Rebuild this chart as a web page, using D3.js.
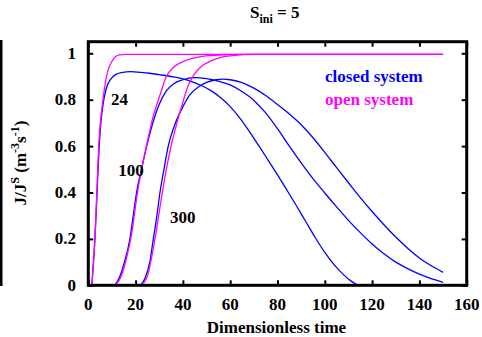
<!DOCTYPE html>
<html>
<head>
<meta charset="utf-8">
<script src="https://cdn.jsdelivr.net/npm/d3@7/dist/d3.min.js"></script>
<style>
  html, body { margin: 0; padding: 0; background: #fff; }
  svg { display: block; }
  text { font-family: "Liberation Serif", "Times New Roman", serif; font-weight: bold; }
</style>
</head>
<body>
<svg id="chart" width="482" height="337"></svg>
<script>
// Normalised nucleation rate J/J^S versus dimensionless time, S_ini = 5.
// Each series is a list of [time, J/J^S] samples.

const closed24 = [[1.5,0],[2.2,0.1],[2.8,0.2],[3.7,0.4],[4.6,0.6],[5.3,0.7],[6.4,0.79],[7.5,0.845],[9.6,0.89],[11.5,0.908],[14,0.917],[18,0.921],[22,0.918],[26,0.914],[30,0.908],[35,0.9],[40,0.89],[44,0.877],[48,0.86],[52,0.838],[56,0.808],[60,0.77],[64,0.722],[68,0.665],[72,0.603],[76,0.54],[80,0.476],[84,0.41],[88,0.343],[92,0.274],[96,0.205],[100,0.142],[104,0.088],[108,0.045],[111,0.019],[114,0]];

const closed100 = [[11.2,0],[13,0.03],[15,0.09],[17.6,0.2],[19,0.3],[20.4,0.4],[22.5,0.5],[24.7,0.6],[27,0.69],[30,0.78],[33,0.838],[36,0.868],[40,0.886],[45,0.895],[50,0.891],[55,0.88],[60,0.864],[65,0.835],[70,0.797],[75,0.743],[80,0.675],[85,0.6],[90,0.528],[95,0.46],[100,0.398],[105,0.338],[110,0.28],[115,0.227],[120,0.178],[125,0.136],[130,0.1],[135,0.072],[140,0.048],[145,0.029],[150,0.013]];

const closed300 = [[22,0],[24,0.03],[26,0.1],[27.5,0.2],[29,0.3],[30.3,0.4],[32,0.5],[33.8,0.6],[36.5,0.69],[40,0.77],[43,0.822],[47,0.858],[50,0.875],[54,0.886],[57,0.889],[60,0.886],[65,0.874],[70,0.85],[75,0.818],[80,0.779],[85,0.738],[90,0.692],[95,0.636],[100,0.573],[105,0.507],[110,0.442],[115,0.378],[120,0.318],[125,0.261],[130,0.208],[135,0.16],[140,0.118],[145,0.084],[150,0.056]];

const open24 = [[1.5,0],[2.2,0.1],[2.8,0.2],[3.6,0.4],[4.4,0.6],[5.1,0.7],[6.2,0.8],[7.5,0.89],[8.6,0.935],[10,0.965],[11.5,0.985],[13,0.993],[16,0.995],[150,0.995]];

const open100 = [[11.4,0],[14,0.04],[16,0.11],[18.3,0.22],[20.5,0.38],[22.5,0.5],[25,0.62],[27.5,0.73],[30.3,0.82],[33,0.9],[36,0.94],[40,0.964],[47,0.985],[55,0.992],[62,0.995],[150,0.995]];

const open300 = [[22.5,0],[25,0.04],[28.2,0.2],[31.3,0.4],[33,0.5],[35,0.6],[37.5,0.7],[40,0.79],[42,0.855],[44.5,0.905],[48,0.945],[51.6,0.966],[56,0.982],[61,0.99],[70,0.995],[150,0.995]];

const closedSeries = [closed24, closed100, closed300];
const openSeries = [open24, open100, open300];

const curveLabels = ["24", "100", "300"];
const legendLabels = ["closed system", "open system"];
const xTicks = [0, 20, 40, 60, 80, 100, 120, 140, 160];
const yTicks = [0, 0.2, 0.4, 0.6, 0.8, 1];

const BLUE = "#0000ff";
const MAGENTA = "#ff00ff";

const svg = d3.select("#chart");
const plotL = 88.3, plotR = 466.7, plotT = 41.7, plotB = 285.3;

const x = d3.scaleLinear().domain([0, 160]).range([plotL, plotR]);
const y = d3.scaleLinear().domain([0, 1]).range([plotB, plotB - 232]);

// Stray frame edge at the far left
svg.append("rect").attr("x", 0).attr("y", 40).attr("width", 2.5).attr("height", 246).attr("fill", "#000");

// Curves
const line = d3.line().x(d => x(d[0])).y(d => y(d[1])).curve(d3.curveMonotoneX);
const g = svg.append("g");
closedSeries.forEach(s => g.append("path").attr("d", line(s))
  .attr("fill", "none").attr("stroke", BLUE).attr("stroke-width", 1.3));
openSeries.forEach(s => g.append("path").attr("d", line(s))
  .attr("fill", "none").attr("stroke", MAGENTA).attr("stroke-width", 1.3));

// Ticks on all four sides, pointing inward
const tickLen = 5;
const axB = d3.axisBottom(x).tickValues(xTicks).tickSize(-tickLen).tickFormat("");
const axT = d3.axisTop(x).tickValues(xTicks).tickSize(-tickLen).tickFormat("");
const axL = d3.axisLeft(y).tickValues(yTicks).tickSize(-tickLen).tickFormat("");
const axR = d3.axisRight(y).tickValues(yTicks).tickSize(-tickLen).tickFormat("");
[[axB, `translate(0,${plotB})`], [axT, `translate(0,${plotT})`],
 [axL, `translate(${plotL},0)`], [axR, `translate(${plotR},0)`]].forEach(([ax, tr]) => {
  const a = svg.append("g").attr("transform", tr).call(ax);
  a.select(".domain").remove();
  a.selectAll("line").attr("stroke", "#000").attr("stroke-width", 2);
});

// Frame
svg.append("rect").attr("x", plotL).attr("y", plotT)
  .attr("width", plotR - plotL).attr("height", plotB - plotT)
  .attr("fill", "none").attr("stroke", "#000").attr("stroke-width", 3);

// Tick labels
svg.append("g").selectAll("text").data(xTicks).join("text")
  .attr("x", d => x(d)).attr("y", 310).attr("text-anchor", "middle")
  .attr("font-size", 17).text(d => d);
svg.append("g").selectAll("text").data(yTicks).join("text")
  .attr("x", 76).attr("y", d => y(d) + 5.5).attr("text-anchor", "end")
  .attr("font-size", 17).text(d => d);

// Axis titles
svg.append("text").attr("x", 276.5).attr("y", 333).attr("text-anchor", "middle")
  .attr("font-size", 17).text("Dimensionless time");

const yl = svg.append("text").attr("transform", "translate(26,163) rotate(-90)")
  .attr("text-anchor", "middle").attr("font-size", 17);
yl.append("tspan").text("J/J");
yl.append("tspan").attr("font-size", 12).attr("dy", -7).text("S");
yl.append("tspan").attr("dy", 7).text(" (m");
yl.append("tspan").attr("font-size", 12).attr("dy", -7).text("-3");
yl.append("tspan").attr("dy", 7).text("s");
yl.append("tspan").attr("font-size", 12).attr("dy", -7).text("-1");
yl.append("tspan").attr("dy", 7).text(")");

// Title
const tt = svg.append("text").attr("x", 250).attr("y", 18).attr("font-size", 17);
tt.append("tspan").text("S");
tt.append("tspan").attr("font-size", 12).attr("dy", 5).text("ini");
tt.append("tspan").attr("dy", -5).text(" = 5");

// Curve labels (initial cluster count)
const labelPos = [[111, 105], [118.3, 175.7], [170, 222.7]];
svg.append("g").selectAll("text").data(curveLabels).join("text")
  .attr("x", (d, i) => labelPos[i][0]).attr("y", (d, i) => labelPos[i][1])
  .attr("font-size", 17).text(d => d);

// Legend
svg.append("g").selectAll("text").data(legendLabels).join("text")
  .attr("x", 325).attr("y", (d, i) => 81.7 + i * 23.2)
  .attr("font-size", 17).attr("fill", (d, i) => i === 0 ? BLUE : MAGENTA)
  .text(d => d);
</script>
</body>
</html>
